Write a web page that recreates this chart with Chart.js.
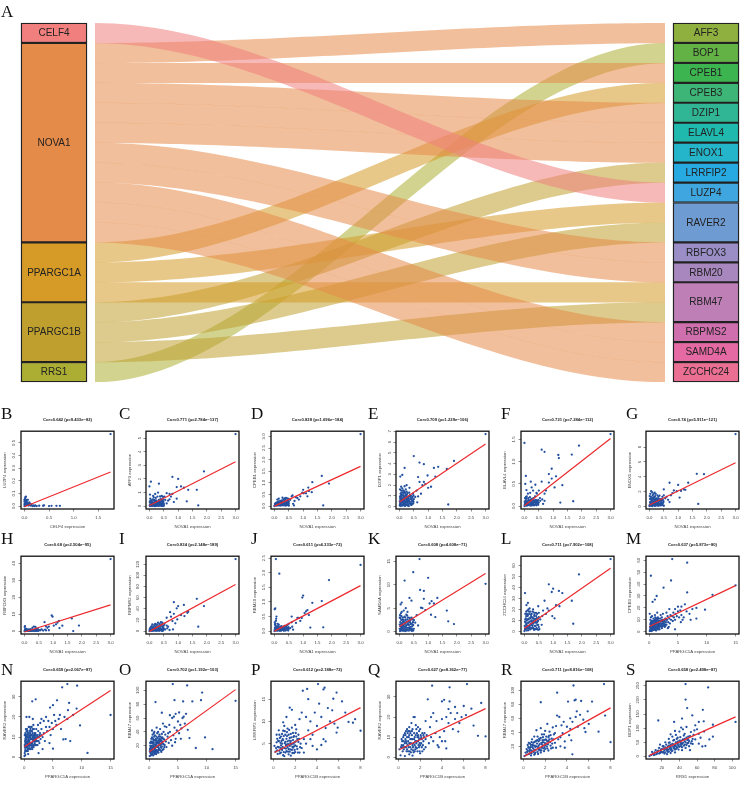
<!DOCTYPE html>
<html>
<head>
<meta charset="utf-8">
<script src="https://cdn.jsdelivr.net/npm/chart.js@4"></script>
<style>
  html, body { margin: 0; padding: 0; background: #fff; }
  #page { position: relative; width: 750px; height: 785px; overflow: hidden; }
  canvas { position: absolute; }
  .tag { position: absolute; font: 17px/17px "Liberation Serif", serif; color: #111; }
</style>
</head>
<body>
<div id="page"></div>
<script>
// sankey nodes, one size unit = one row
const leftNodes = ['CELF4', 'NOVA1', 'PPARGC1A', 'PPARGC1B', 'RRS1'];
const leftSizes = [1, 10, 3, 3, 1];
const leftColors = ['#F07F7D', '#E58B49', '#D69A26', '#BFA02F', '#ABAE32'];
const rightNodes = ['AFF3', 'BOP1', 'CPEB1', 'CPEB3', 'DZIP1', 'ELAVL4', 'ENOX1', 'LRRFIP2', 'LUZP4', 'RAVER2', 'RBFOX3', 'RBM20', 'RBM47', 'RBPMS2', 'SAMD4A', 'ZCCHC24'];
const rightSizes = [1, 1, 1, 1, 1, 1, 1, 1, 1, 2, 1, 1, 2, 1, 1, 1];
const rightColors = ['#8FAF3E', '#62B245', '#3CB44F', '#3DB577', '#30B694', '#1FB9AE', '#25B5CB', '#27A9E1', '#3FA6DF', '#6D9BD2', '#9B8EC7', '#A886BE', '#BD7FB5', '#CF6FAE', '#E56AA3', '#EA6F92'];
const linkFrom = ['CELF4', 'NOVA1', 'NOVA1', 'NOVA1', 'NOVA1', 'NOVA1', 'NOVA1', 'NOVA1', 'NOVA1', 'NOVA1', 'NOVA1', 'PPARGC1A', 'PPARGC1A', 'PPARGC1A', 'PPARGC1B', 'PPARGC1B', 'PPARGC1B', 'RRS1'];
const linkTo = ['LUZP4', 'AFF3', 'CPEB1', 'DZIP1', 'ELAVL4', 'ENOX1', 'RBFOX3', 'RBM20', 'RBPMS2', 'SAMD4A', 'ZCCHC24', 'CPEB3', 'RAVER2', 'RBM47', 'LRRFIP2', 'RAVER2', 'RBM47', 'BOP1'];

// scatter titles
const letters = ['B', 'C', 'D', 'E', 'F', 'G', 'H', 'I', 'J', 'K', 'L', 'M', 'N', 'O', 'P', 'Q', 'R', 'S'];
const titles = ['Cor=0.642 (p=9.433e\u221282)', 'Cor=0.771 (p=2.784e\u2212137)', 'Cor=0.828 (p=1.696e\u2212184)', 'Cor=0.709 (p=1.229e\u2212106)', 'Cor=0.721 (p=7.284e\u2212112)', 'Cor=0.74 (p=5.911e\u2212121)',
  'Cor=0.68 (p=2.504e\u221295)', 'Cor=0.834 (p=2.148e\u2212189)', 'Cor=0.611 (p=4.333e\u221272)', 'Cor=0.608 (p=4.608e\u221271)', 'Cor=0.711 (p=7.902e\u2212108)', 'Cor=0.637 (p=5.873e\u221280)',
  'Cor=0.659 (p=2.067e\u221287)', 'Cor=0.702 (p=1.192e\u2212103)', 'Cor=0.612 (p=2.188e\u221272)', 'Cor=0.627 (p=8.362e\u221277)', 'Cor=0.711 (p=8.816e\u2212108)', 'Cor=0.658 (p=2.498e\u221287)'];
const xGenes = ['CELF4', 'NOVA1', 'NOVA1', 'NOVA1', 'NOVA1', 'NOVA1', 'NOVA1', 'NOVA1', 'NOVA1', 'NOVA1', 'NOVA1', 'PPARGC1A', 'PPARGC1A', 'PPARGC1A', 'PPARGC1B', 'PPARGC1B', 'PPARGC1B', 'RRS1'];
const yGenes = ['LUZP4', 'AFF3', 'CPEB1', 'DZIP1', 'ELAVL4', 'ENOX1', 'RBFOX3', 'RBPMS2', 'RBM20', 'SAMD4A', 'ZCCHC24', 'CPEB3', 'RAVER2', 'RBM47', 'LRRFIP2', 'RAVER2', 'RBM47', 'BOP1'];

const ticksNova = [0, 0.5, 1, 1.5, 2, 2.5, 3];
const ticks1A = [0, 5, 10, 15];
const ticks1B = [0, 2, 4, 6, 8];
const xTicks = [[0, 0.5, 1, 1.5], ticksNova, ticksNova, ticksNova, ticksNova, ticksNova, ticksNova, ticksNova, ticksNova, ticksNova, ticksNova, ticks1A, ticks1A, ticks1A, ticks1B, ticks1B, ticks1B, [20, 40, 60, 80, 100]];
const yTicks = [[0, 0.1, 0.2, 0.3, 0.4, 0.5], [0, 1, 2, 3, 4, 5], [0, 0.5, 1, 1.5, 2, 2.5, 3], [0, 1, 2, 3, 4, 5, 6, 7], [0, 0.5, 1, 1.5], [0, 2, 4, 6, 8],
  [0, 10, 20, 30, 40], [0, 20, 40, 60, 80, 100, 120], [0, 0.5, 1, 1.5, 2, 2.5], [0, 5, 10, 15], [0, 10, 20, 30, 40, 50, 60], [0, 10, 20, 30, 40, 50, 60],
  [0, 10, 20, 30], [20, 40, 60, 80, 100], [5, 10, 15], [0, 10, 20, 30], [20, 40, 60, 80, 100], [0, 50, 100, 150, 200, 250]];

// red fit lines, [x, y] at both ends
const fits = [
  [[0, -0.005], [1.75, 0.27]], [[0, 0.05], [3, 3.27]], [[0, 0], [3, 1.71]], [[0, 0.43], [3, 5.83]], [[0, 0.01], [3, 1.52]], [[0, 0.2], [3, 5.9]],
  [[0, -0.5], [3, 15.5]], [[0, -0.5], [3, 83.8]], [[0, 0], [3, 1.56]], [[0, 1.1], [3, 12.4]], [[0, 3], [3, 57.6]], [[0.05, 4.4], [15, 38.7]],
  [[0.05, 5.2], [15, 33.2]], [[0.05, 11.4], [15, 101]], [[0.1, 3], [8, 13.1]], [[0.1, 3.9], [8, 24.2]], [[0.1, 6], [8, 75]], [[6, 3.5], [103.7, 140]]
];

// points
const ptsB = [[0,0],[.01,.02],[.02,.05],[.03,.075],[.01,.06],[.02,.03],[.04,.04],[.05,.02],[.03,.01],[.06,.03],[.07,.01],[.08,.02],[.05,.05],[.02,.07],[.01,.04],[.03,.03],[.04,.02],[.09,.01],[.1,.01],[.12,.005],[.14,.01],[.16,0],[.18,.005],[.2,0],[.22,.005],[.25,0],[.3,.003],[.38,.003],[.4,.006],[.5,0],[.55,.002],[.65,.002],[.72,.002],[.06,.01],[0,.015],[0,.035],[.07,.05],[.1,.03],[.015,.01],[.035,.05],[.045,.01],[.08,.005],[.11,.02],[0,.05],[.02,.015],[.13,.015],[1.75,.57]];
const ptsC = [[.02,0],[.05,.05],[.08,.02],[.1,.1],[.12,.04],[.15,.08],[.18,.01],[.2,.12],[.23,.05],[.25,.02],[.28,.15],[.3,.06],[.32,.02],[.35,.1],[.38,.04],[.4,.12],[.42,.02],[.45,.08],[.48,.05],[.5,.02],[.03,.15],[.06,.25],[.01,.3],[.1,.3],[.14,.2],[.17,.35],[.2,.25],[.24,.4],[.27,.3],[.3,.22],[.33,.45],[.36,.3],[.39,.55],[.41,.35],[.44,.2],[.47,.45],[.49,.3],[.5,.15],[.08,.4],[.12,.5],[.03,.55],[.02,.85],[.15,.65],[.22,.6],[.28,.7],[.37,.72],[.43,.75],[.47,.68],[.05,1.8],[0,1.45],[.33,1.65],[.8,2.15],[1,2],[.95,1.4],[1.1,1.45],[1.2,1.35],[1.35,1.2],[1.65,1.2],[1.7,.05],[1.9,2.55],[1.3,.35],[3,5.3],[.8,.9],[.6,.95],[.7,.9],[.52,.7],[.75,.7],[.95,.55],[.85,.3],[.65,.4],[.55,.45],[.6,.2],[.7,.5],[.13,.75],[.2,.9],[.3,1],
  [.04,.12],[.07,.3],[.09,.18],[.13,.1],[.16,.22],[.19,.15],[.22,.32],[.25,.12],[.26,.22],[.29,.05],[.31,.15],[.34,.25],[.37,.16],[.4,.24],[.43,.12],[.46,.3],[.48,.18],[.03,.38],[.06,.42],[.11,.2],[.16,.45],[.21,.42],[.31,.36],[.35,.4],[.42,.45],[.45,.38],[.01,.06],[.04,.02],[.07,.08],[.1,.02],[.14,.03],[.19,.06],[.22,.01],[.27,.08],[.33,.03],[.37,.07],[.41,.06],[.44,.01],[.49,.11]];
const ptsD = [[0,0],[.03,.05],[.06,.02],[.09,.08],[.12,.03],[.15,.1],[.18,.05],[.21,.02],[.24,.12],[.27,.06],[.3,.03],[.33,.14],[.36,.07],[.39,.02],[.42,.1],[.45,.05],[.48,.13],[.5,.02],[.02,.1],[.05,.14],[.08,.15],[.11,.17],[.14,.2],[.17,.16],[.2,.22],[.23,.19],[.26,.25],[.29,.2],[.32,.28],[.35,.22],[.38,.3],[.41,.24],[.44,.18],[.47,.26],[.5,.2],[.1,.28],[.15,.32],[.28,.36],[.35,.33],[.4,.35],[.46,.33],[.5,.3],[.55,.27],[.6,.42],[.63,.46],[.65,.1],[.68,.03],[.7,.22],[.75,.38],[.8,.35],[.85,.28],[.9,.42],[.97,.58],[1,.7],[1.02,.55],[1.1,.55],[1.15,.42],[1.18,.8],[1.2,.65],[1.3,.6],[1.32,1.03],[1.65,1.3],[1.7,.03],[1.9,.97],[3,3.1],
  [.01,.03],[.04,.08],[.07,.04],[.1,.04],[.13,.09],[.16,.03],[.19,.09],[.22,.06],[.25,.04],[.28,.09],[.31,.12],[.34,.04],[.37,.11],[.4,.05],[.43,.04],[.46,.09],[.49,.06],[.06,.12],[.12,.13],[.18,.13],[.24,.16],[.3,.16],[.36,.15],[.42,.15],[.47,.17],[.5,.12]];
const ptsE = [[.01,.1],[.03,.3],[.05,.6],[.02,.9],[.04,1.2],[.06,1.5],[.08,.2],[.1,.45],[.12,.8],[.14,1],[.16,.15],[.18,.6],[.2,1.3],[.22,.35],[.24,.7],[.26,1.1],[.28,.1],[.3,.5],[.32,.9],[.34,1.3],[.36,.3],[.38,.7],[.4,1],[.42,.15],[.44,.5],[.46,.9],[.48,.3],[.5,.7],[.02,1.6],[.06,1.85],[.1,1.7],[.14,1.5],[.18,1.9],[.22,1.6],[.05,.05],[.11,.1],[.15,.3],[.25,.2],[.33,.05],[.41,.45],[.49,1.05],[.08,1.1],[.12,1.3],[.02,.45],[.04,.75],[.07,.95],[.09,.65],[.13,.4],[.17,.85],[.19,.25],[.23,1],[.27,.55],[.31,.75],[.35,1],[.39,.2],[.43,.75],[.47,.55],[.03,2.8],[.1,2.95],[.18,3.6],[.25,2],[.35,1.75],[.5,4.7],[.7,4.1],[.85,3.95],[.65,2.75],[.7,2.3],[.85,2.3],[.8,2],[.98,2.9],[1.1,1.85],[1.2,3.6],[1.25,2.8],[1.35,3.7],[1.65,3.5],[1.7,.2],[1.9,4.25],[3,6.75],[.55,.9],[.6,1.5],[.65,.95],[.75,1.2],[.62,.4],[.9,2.1],[1,1.75],
  [.01,.5],[.02,.2],[.03,.7],[.04,1],[.05,.35],[.06,.8],[.07,1.3],[.08,.55],[.09,1.05],[.1,.2],[.11,.7],[.12,1.5],[.13,.15],[.14,.6],[.15,1.2],[.16,.45],[.17,1.4],[.18,.95],[.19,.05],[.2,.5],[.21,.8],[.22,1.15],[.23,.15],[.24,.45],[.25,1.4],[.26,.65],[.27,.9],[.28,1.25],[.29,.35],[.3,.75],[.31,.2],[.33,.6],[.35,.45],[.37,1.1],[.39,.85],[.4,.3],[.42,.65],[.45,.25],[.47,1.2],[.49,.45]];
const ptsF = [[0,0],[.03,.03],[.06,.01],[.09,.06],[.12,.02],[.15,.08],[.18,.04],[.21,.01],[.24,.07],[.27,.03],[.3,.02],[.33,.08],[.36,.03],[.39,.06],[.42,.02],[.45,.07],[.48,.03],[.01,.1],[.04,.13],[.07,.16],[.1,.11],[.13,.18],[.16,.12],[.19,.2],[.22,.14],[.02,.18],[.05,.2],[.08,.22],[.25,.16],[.28,.11],[.31,.18],[.34,.13],[.37,.22],[.4,.14],[.43,.28],[.46,.11],[.5,.08],[.54,.18],[.2,.3],[.3,.35],[.42,.3],[.5,.35],[.12,.28],[.25,.42],[.22,.55],[.03,.5],[.05,.68],[.07,.36],[.38,.48],[.6,1.27],[.7,1.22],[0,1.42],[.6,.55],[.7,.28],[.75,.35],[.85,.72],[.85,.53],[.95,.84],[.95,.62],[1.1,.67],[1.05,.42],[1.18,1.15],[1.2,1.08],[1.25,.08],[1.32,.47],[1.65,1.16],[1.7,.11],[1.9,1.36],[3,1.62],[.62,.15],[.65,.05],[.55,.12],[.7,.12],
  [.01,.04],[.04,.06],[.07,.03],[.1,.02],[.13,.05],[.16,.03],[.19,.09],[.22,.05],[.25,.02],[.28,.07],[.31,.05],[.34,.02],[.37,.09],[.4,.04],[.43,.09],[.47,.05],[.02,.08],[.06,.09],[.11,.08],[.15,.14],[.2,.11],[.24,.12],[.29,.14],[.33,.12],[.38,.1],[.42,.12],[.48,.14]];
const ptsG = [[0,.05],[.03,.3],[.06,.6],[.09,.15],[.12,.9],[.15,.4],[.18,.1],[.21,.7],[.24,.25],[.27,.5],[.3,.1],[.33,.35],[.36,.65],[.39,.15],[.42,.45],[.45,.2],[.48,.55],[.5,.1],[.02,1],[.05,1.3],[.08,.85],[.11,1.5],[.14,1.2],[.17,.95],[.2,1.4],[.23,.85],[.26,1.1],[.29,.75],[.32,1.05],[.35,.9],[.38,1],[.41,.8],[.44,1],[.47,.85],[.03,1.7],[.06,2.05],[.01,1.4],[.1,1.9],[.14,1.65],[.18,1.85],[.22,1.7],[.28,1.5],[.35,1.45],[.45,1.3],[.5,1.5],[.02,.6],[.07,.2],[.13,.55],[.19,.35],[.25,.8],[.55,1.1],[.6,1.3],[.65,.9],[.7,.6],[.75,1.5],[.5,2.3],[.7,3.2],[.85,2.15],[.95,2.05],[1,2.9],[1.05,1.2],[1.1,2.1],[1.2,2.3],[1.25,2.25],[1.35,3.2],[1.65,4.4],[1.7,.35],[1.9,4.35],[3,9.75],[.8,1.8],
  [.01,.2],[.04,.5],[.05,.1],[.07,.75],[.08,.4],[.1,.05],[.11,.55],[.13,.25],[.16,.7],[.16,.15],[.19,.6],[.22,.1],[.22,.45],[.25,.4],[.28,.2],[.3,.55],[.31,.3],[.34,.15],[.37,.35],[.4,.6],[.43,.2],[.46,.4],[.49,.7],[.04,1.1],[.07,1],[.1,1.2],[.13,1],[.16,1.25],[.19,.85],[.21,1.1],[.27,.95],[.31,1.3],[.37,.75]];
const ptsH = [[0,0],[.03,.2],[.06,.5],[.09,.1],[.12,.4],[.15,.2],[.18,.6],[.21,.1],[.24,.3],[.27,.8],[.3,.15],[.33,.5],[.36,.2],[.39,1],[.42,.3],[.45,.6],[.48,.2],[.5,.4],[.02,1],[.04,1.5],[.01,2.5],[.02,3],[.08,1.2],[.12,.8],[.16,1],[.22,1.1],[.28,2],[.33,2.7],[.38,2.5],[.42,1.5],[.47,1.1],[.55,.5],[.6,1],[.65,.3],[.7,5.3],[.72,.9],[.75,2.8],[.8,2],[.85,2.7],[.85,.5],[.95,9.2],[.98,8.5],[1.02,3.2],[1.1,4],[1.15,5],[1.2,6],[1.22,1.8],[1.32,3.2],[1.65,7.5],[1.7,0],[1.9,3.3],[3,42.5],[.75,.4],[.1,.2],[.2,.4],[.35,.7],
  [.05,.1],[.14,.1],[.19,.2],[.26,.1],[.31,.4],[.37,.1],[.41,.6],[.44,.1],[.49,.7],[.07,.8],[.17,.5],[.25,.6]];
const ptsI = [[0,0],[.03,1],[.06,3],[.09,.5],[.12,2],[.15,5],[.18,1],[.21,4],[.24,.5],[.27,3],[.3,1],[.33,6],[.36,2],[.39,4],[.42,.5],[.45,3],[.48,1.5],[.5,5],[.02,5],[.05,7],[.08,9],[.11,6],[.14,8],[.17,11],[.2,7],[.23,9],[.26,12],[.29,8],[.32,10],[.35,13],[.38,8],[.41,12],[.44,9],[.47,7],[.5,10],[.1,12],[.2,13],[.3,15],[.4,16],[.45,15],[.52,13],[.55,3],[.6,24],[.62,5],[.65,8],[.7,2],[.72,34],[.75,26],[.8,18],[.82,3],[.85,52],[.85,31],[.9,14],[.95,41],[.97,21],[1,45],[1.1,29],[1.2,47],[1.22,27],[1.32,33],[1.35,35],[1.65,58],[1.7,8],[1.9,45],[3,129.5],[.6,10],
  [.01,3],[.04,4],[.07,1],[.1,3],[.13,.5],[.16,2],[.19,3.5],[.22,1],[.25,5],[.28,1.5],[.31,3.5],[.34,.5],[.37,5],[.4,2],[.43,4.5],[.46,.5],[.49,3]];
const ptsJ = [[0,0],[.03,.02],[.06,.05],[.09,.01],[.12,.08],[.15,.03],[.18,.01],[.21,.06],[.24,.02],[.27,.1],[.3,.04],[.33,.01],[.36,.07],[.39,.02],[.42,.12],[.45,.05],[.48,.02],[.5,.08],[.02,.12],[.04,.18],[.07,.15],[.1,.13],[.13,.18],[.16,.12],[.2,.15],[.25,.17],[.3,.13],[.35,.18],[.4,.15],[.45,.2],[.5,.25],[.03,.25],[.01,.3],[.05,.35],[.06,.42],[.07,.5],[.02,.22],[.11,.25],[.15,.22],[.03,.78],[.01,.75],[.05,2.47],[.17,1.97],[.6,.5],[.62,.15],[.65,.05],[.6,.3],[.75,.28],[.8,.45],[.85,.45],[.9,.35],[.95,.45],[.97,1.15],[1,1.22],[1.05,.62],[1.1,.68],[1.15,.72],[1.2,.55],[1.25,.12],[1.32,.97],[1.65,1.03],[1.7,.13],[1.9,1.75],[3,2.27],[.55,.1],
  [.01,.06],[.04,.09],[.08,.06],[.11,.03],[.14,.09],[.17,.05],[.19,.1],[.22,.02],[.23,.11],[.26,.05],[.29,.09],[.32,.06],[.35,.11],[.38,.04],[.41,.08],[.44,.1],[.47,.06],[.49,.14]];
const ptsK = [[.02,.1],[.05,.5],[.08,1],[.11,.2],[.14,1.4],[.17,.6],[.2,.1],[.23,1.2],[.26,.4],[.29,1.7],[.32,.2],[.35,.9],[.38,1.6],[.41,.3],[.44,1.1],[.47,2],[.5,.6],[.01,1.5],[.03,2],[.06,2.5],[.09,1.8],[.12,3],[.15,2.2],[.18,3.2],[.21,2.5],[.24,3.6],[.27,2.6],[.3,3],[.33,2.4],[.36,2.9],[.39,2.5],[.42,3],[.45,2.7],[.5,2.4],[.02,3.5],[.05,3.9],[.01,3],[.08,4.2],[.04,5.8],[.08,6.2],[.15,4.5],[.22,5],[.28,4.2],[.3,1.5],[.07,.8],[.13,.3],[.19,1.6],[.25,2.1],[.34,.6],[.43,.15],[.48,1.4],[.18,10.9],[.35,7.2],[.42,6.6],[.48,12.7],[.7,15.5],[.72,8.9],[.85,8.7],[.85,7],[.8,5],[.75,5.1],[.9,4.6],[1,11.5],[1.05,6],[1.1,3.6],[1.12,6.5],[1.2,6],[1.25,3.1],[1.32,7.2],[1.65,4.5],[1.7,2.2],[1.9,1.6],[3,10.2],[.55,1.9],[.6,3.5],[.65,1.3],
  [.01,.6],[.03,1.1],[.04,.2],[.06,1.6],[.07,.3],[.09,.6],[.1,1.3],[.12,2.1],[.13,.9],[.15,.2],[.16,1.1],[.17,1.9],[.19,.5],[.21,.9],[.22,1.9],[.24,.2],[.25,.8],[.27,1.5],[.28,.3],[.3,.8],[.31,2.1],[.33,1.4],[.35,.3],[.37,2],[.39,1],[.4,.6],[.42,1.7],[.44,.5],[.46,1.5],[.48,.2],[.49,2.5],[.03,2.9],[.07,3.3],[.1,2.6],[.14,2.5],[.2,3],[.27,3.4]];
const ptsL = [[0,.3],[.03,3],[.06,6],[.09,1],[.12,4],[.15,8],[.18,2],[.21,6],[.24,10],[.27,3],[.3,7],[.33,1.5],[.36,5],[.39,9],[.42,3],[.45,6],[.48,1.5],[.5,4],[.02,9],[.05,12],[.08,10],[.11,14],[.14,11],[.17,16],[.2,12],[.23,15],[.26,13],[.29,18],[.32,12],[.35,15],[.38,11],[.41,14],[.44,12],[.47,10],[.5,13],[.03,16],[.06,18],[.1,19],[.14,20],[.18,21],[.07,24],[.12,26],[.02,35],[.3,20],[.4,17],[.5,17],[.48,23],[.08,3],[.13,1],[.19,4],[.25,6],[.31,10],[.37,2],[.43,8],[.55,11],[.6,6],[.62,14],[.65,19],[.7,28],[.75,16],[.8,21],[.85,43],[.85,19],[.95,36],[1,39],[.97,14],[1.05,12],[1.1,24],[1.2,37],[1.22,23],[1.32,35],[1.65,28],[1.7,7],[1.9,52],[3,66],[.52,2],
  [.01,5],[.02,2],[.04,8],[.05,4],[.07,1],[.08,7],[.1,5],[.11,11],[.13,8],[.14,3],[.16,5],[.17,12],[.19,9],[.21,2],[.22,13],[.23,7],[.25,3],[.26,9],[.28,5],[.29,12],[.31,3],[.33,8],[.34,14],[.36,2],[.37,11],[.39,5],[.4,8],[.42,12],[.44,2],[.46,9],[.48,6],[.03,11],[.06,14],[.09,16],[.12,15],[.16,18],[.21,18],[.25,16],[.34,17],[.44,16]];
const ptsM = [[.3,47],[4,61],[6.6,58],[3.8,43],[2.5,37],[6.6,33],[1.3,30],[.6,25],[1,27],[11,31],[15,39],[9.7,18.5],[8.2,20],[7.5,19],[6.2,23],[5.6,21],[7.2,10],[8.2,11],[4.5,2],[.1,.5],[.2,2],[.3,4],[.4,1],[.5,3],[.6,6],[.7,1.5],[.8,4],[.9,2.5],[1,6],[1.1,3],[1.2,1],[1.3,5],[1.4,8],[1.5,3],[1.6,6],[1.7,4],[1.8,2],[1.9,7],[2,5],[2.1,9],[2.2,3],[2.3,7],[2.4,5],[2.5,10],[2.6,7],[2.7,4],[2.8,11],[2.9,8],[3,6],[3.1,10],[3.2,13],[3.3,8],[3.4,4],[3.5,11],[3.6,7],[3.7,14],[3.8,10],[4,13],[4.1,9],[4.2,16],[4.3,12],[4.5,10],[4.6,15],[4.8,13],[5,17],[5.2,12],[5.4,18],[5.6,14],[5.8,10],[.2,6],[.3,8],[.4,5],[.5,9],[.6,3],[.7,7],[.8,9],[.9,5],[1,10],[1.1,7],[1.2,11],[1.3,8],[1.5,12],[1.7,9],[1.9,11],[2,14],[2.2,12],[2.4,15],[.2,10],[.3,12],[.5,13],[.1,15],[1,14],[1.4,16],[.15,1],[.25,3],[.35,.5],[.45,2],[.55,4],[.65,2.5],[.75,5.5],[.85,3.5],[.95,7],[1.05,4.5],[1.15,6],[1.25,3],[1.35,6.5],[1.45,4.5],[1.55,8],[1.65,2],[1.75,6],[2.15,6],[2.35,9],[3.25,3],[5.5,8],[6,12],[6.5,17],[7,15],[3,16],[3.5,19],[4.5,19],[5,21],
  [.25,1],[.35,2.5],[.45,4],[.55,1],[.65,5],[.75,3],[.85,1.5],[.95,4],[1.05,2],[1.15,8],[1.25,6],[1.35,3],[1.45,2],[1.55,5],[1.65,7],[1.75,3.5],[1.85,5],[1.95,9],[2.05,7],[2.15,4],[2.25,10],[2.35,5],[2.45,8],[2.55,5.5],[2.65,9],[2.75,6],[2.85,5],[2.95,10],[.15,4],[.25,7],[.35,6.5],[.45,7],[.55,8],[.65,9],[.75,11],[.85,7],[.95,9],[1.05,12],[1.15,10],[1.25,9],[1.35,11],[1.45,10],[1.65,11]];
const ptsN = [[6.6,34.8],[7.5,36.4],[9.2,35.6],[1.4,27.8],[2,28.8],[5.7,28.3],[15,21],[11,2.1],[9.7,15.8],[7.8,27],[7.6,23.4],[9.1,24.2],[4.5,24.7],[5,25.9],[6.8,8.8],[7.2,9],[8,8],[5,4.2],[2.5,2],[.05,.5],[.1,2],[.2,4],[.3,6],[.15,8],[.25,3],[.35,10],[.45,5],[.55,7],[.65,3],[.75,9],[.85,5],[.95,11],[1.05,7],[1.15,4],[1.25,9],[1.35,6],[1.45,12],[1.55,8],[1.65,5],[1.75,10],[1.85,7],[1.95,12],[2.05,9],[2.15,6],[2.25,11],[2.35,8],[2.45,13],[2.55,10],[2.65,7],[2.75,12],[2.85,9],[2.95,11],[.1,6],[.2,9],[.3,11],[.4,13],[.5,3],[.6,10],[.7,6],[.8,12],[.9,8],[1,4],[1.1,10],[1.2,13],[1.3,7],[1.4,9],[1.5,5],[1.6,11],[1.7,14],[1.8,8],[1.9,10],[2,6],[2.1,14],[2.2,8],[.15,11],[.25,7],[.35,5],[.45,9],[.55,12],[.65,8],[.75,4],[.85,10],[.95,6],[1.05,12],[1.15,9],[1.25,5],[1.35,11],[1.45,7],[.5,14],[.8,15],[.3,14],[.1,11],[1,15],[1.3,15],[1.6,16],[.4,20],[.9,20],[1.5,19],[2.4,16],[3,14],[3.2,10],[3.4,12],[3.6,8],[3.8,15],[4,13],[4.2,18],[4.4,15],[4.6,11],[4.8,17],[5,14],[5.2,21],[5.4,18],[5.6,16],[6,19],[6.4,14],[2.8,17],[3,19],[3.4,18],[3.8,20],[6.2,21],[7,20],[7.5,19],[8.5,21],[4.4,7],[3.2,4],[.2,1],[.7,1.5],
  [.12,5],[.22,7],[.32,3],[.42,7],[.52,5],[.62,6],[.72,8],[.82,7],[.92,10],[1.02,9],[1.12,6],[1.22,11],[1.32,9],[1.42,4],[1.52,10],[1.62,8],[1.72,6],[1.82,11],[1.92,8],[2.02,11],[2.12,8],[2.22,10],[2.32,6],[2.42,10],[2.52,8],[2.62,11],[.17,3],[.27,10],[.37,8],[.47,11],[.57,4],[.67,11],[.77,6],[.87,8],[.97,13],[1.07,4],[1.17,11],[1.27,7],[1.37,13],[1.47,10],[1.57,6],[1.67,9],[1.77,12],[1.87,9],[1.97,6],[.2,12],[.4,10],[.6,13],[1.1,14],[1.5,14]];
const ptsO = [[4.1,109],[6.6,107],[9.2,96.7],[1.1,83],[4.4,85.7],[5.9,84],[7.5,84],[9,85.7],[15,84.8],[11,15],[9.7,32],[8.1,16.7],[6.7,43],[7,31],[2.2,67.6],[3.6,64],[.1,5],[.2,10],[.3,15],[.4,7],[.5,20],[.6,12],[.7,6],[.8,25],[.9,16],[1,9],[1.1,22],[1.2,14],[1.3,28],[1.4,18],[1.5,11],[1.6,24],[1.7,16],[1.8,30],[1.9,21],[2,13],[2.1,27],[2.2,19],[2.3,32],[2.4,23],[2.5,15],[2.6,29],[2.7,21],[2.8,36],[2.9,26],[3,18],[3.2,33],[3.4,24],[3.6,40],[3.8,28],[4,20],[4.2,35],[4.4,46],[4.6,30],[4.8,42],[5,55],[5.2,38],[5.4,50],[5.6,45],[5.8,60],[6,62],[6.2,52],[6.4,66],[.2,20],[.3,26],[.4,18],[.5,32],[.6,24],[.7,16],[.8,12],[.9,28],[1,35],[1.1,11],[1.2,25],[1.3,19],[1.4,38],[1.5,26],[1.6,14],[1.7,33],[1.8,23],[1.9,44],[2,29],[2.1,17],[2.2,37],[.15,15],[.25,6],[.35,24],[.45,12],[.55,8],[.65,30],[.75,20],[.85,10],[.95,22],[1.05,17],[1.15,30],[1.25,9],[1.35,13],[1.55,40],[1.75,24],[.5,42],[.8,38],[1.3,46],[2.5,40],[3,47],[3.5,50],[4,60],[4.3,62],[4.6,66],[5.2,68],[2.7,48],[3.3,38],[4.5,25],[5.5,30],[2.4,52],
  [.12,12],[.22,16],[.32,9],[.42,13],[.52,9],[.62,17],[.72,11],[.82,19],[.92,8],[1.02,14],[1.12,18],[1.22,8],[1.32,12],[1.42,25],[1.52,19],[1.62,10],[1.72,21],[1.82,14],[1.92,28],[2.02,18],[2.12,11],[2.22,24],[2.32,14],[2.42,30],[2.52,22],[2.62,18],[.17,24],[.27,18],[.37,30],[.47,26],[.57,16],[.67,23],[.77,28],[.87,33],[.97,13],[1.07,28],[1.17,21],[1.27,33],[1.37,23],[1.47,31],[1.57,18],[1.67,28],[1.77,36],[1.87,26],[1.97,33],[2.07,22],[2.17,31],[2.27,26],[.6,36],[.9,40]];
const ptsP = [[2.7,16.9],[3.1,17.3],[4.1,18.4],[4.7,17.6],[4.6,17.2],[5.8,16.5],[5.5,15.1],[6.3,14.5],[3.2,15],[1.5,13.1],[1.7,12.6],[8,7.9],[7.5,10.5],[7.3,9.7],[6.9,9.9],[6.6,12],[5.9,8.6],[4,3.7],[.1,4.5],[.2,3.2],[.3,5.3],[.4,2.7],[.5,4.2],[.6,6.3],[.7,3],[.8,5],[.9,2.4],[1,4],[1.1,7],[1.2,3.3],[1.3,5.5],[1.4,2.6],[1.5,4.5],[1.6,7.2],[1.7,3.6],[1.8,5.8],[1.9,2.9],[2,4.6],[2.1,6.6],[2.2,3.8],[2.3,5.4],[2.4,3],[.3,7],[.5,8],[.7,6.6],[.9,7.9],[1.1,5.4],[1.3,8.4],[1.5,6.3],[1.7,8.6],[1.9,6.7],[2.1,8.2],[2.3,7],[2.5,5],[.4,4.3],[.6,2.8],[.8,3.6],[1,2.2],[1.2,4.8],[1.4,3.8],[1.6,2.3],[1.8,4.1],[2,3.1],[.7,4.6],[.9,5.8],[1.1,3],[1.3,4.2],[1.5,3.2],[1.7,5],[1.9,4.4],[.5,5.6],[.8,7.2],[1,9],[1.2,6.1],[1.4,7],[1.6,5.6],[1.8,7.4],[2,9.2],[2.2,6],[2.6,4],[2.8,6],[3,5],[3.2,8],[3.4,10],[3.6,7],[3.8,12],[4,9],[4.2,14],[4.4,11],[4.6,6],[4.8,8.5],[5,13],[5.2,10],[5.4,12.5],[5.6,9.5],[5.8,7.5],[2.8,3],[3,11],[3.4,6],[2.4,10.5],[2.6,12],[1.2,11],[.9,9.8],[3.6,4.5],[4.4,4.7],[4.8,5.5],
  [.25,4],[.35,3.5],[.45,5.6],[.55,3.4],[.65,5.2],[.75,3.9],[.85,6],[.95,3.1],[1.05,5.1],[1.15,3.9],[1.25,6.7],[1.35,4.9],[1.45,5.7],[1.55,3.7],[1.65,4.8],[1.75,2.9],[1.85,5],[1.95,3.6],[2.05,5.5],[2.15,4.4],[2.25,3],[2.35,6.1],[2.45,4.2],[.35,6.1],[.55,7],[.75,5.6],[.95,6.7],[1.05,7.8],[1.25,7.6],[1.45,8.1],[1.65,6.4],[1.85,6.5],[2.05,7.4],[.65,4],[.85,4.3],[1.15,4.7],[1.35,3.2],[1.55,5.1],[1.75,4.3],[1.95,5.3]];
const ptsQ = [[3.1,35.6],[4.7,34.8],[6.3,36.4],[2.7,28.8],[4,27.8],[4.2,28.6],[4.7,27.8],[7.6,27],[8,10.4],[7.3,10.7],[6.9,15.8],[6,25.5],[5.2,25],[6.7,24.2],[5.5,12.8],[4.4,4.4],[.1,4],[.2,1],[.3,6],[.4,3],[.5,8],[.6,.6],[.7,5],[.8,10],[.9,3],[1,7],[1.1,12],[1.2,4],[1.3,9],[1.4,2.5],[1.5,6],[1.6,11],[1.7,4.5],[1.8,8],[1.9,13],[2,6],[2.1,10],[2.2,3],[2.3,8],[2.4,12],[2.5,5],[.3,9],[.5,11],[.7,13],[.9,8],[1.1,5],[1.3,14],[1.5,10],[1.7,8],[1.9,5],[2.1,7],[2.3,11],[2.5,9],[.4,5],[.6,7],[.8,4],[1,11],[1.2,9],[1.4,7],[1.6,5],[1.8,11],[2,9],[.5,4],[.7,8],[.9,13],[1.1,9],[1.3,6],[1.5,3],[1.7,12],[1.9,9],[.6,12],[.8,14],[1,15],[1.2,17],[1.4,20],[1.6,16],[1.5,20],[1.8,15],[2,14],[2.2,12],[2.6,11],[2.8,7],[3,10],[3.2,8],[3.4,12],[3.6,6],[3.8,10],[4,8],[4.2,13],[4.4,20],[4.6,17],[4.8,22],[5,14],[5.2,19],[5.4,22],[5.6,17],[5.8,20],[6.2,21],[3,20],[3.2,22],[2.9,15],[3.5,18],[4,19],[4.6,24],[4.3,8],[3.7,5],[2.5,18],[1,1.5],[1.3,.8],[2,2],
  [.25,5],[.35,8],[.45,6],[.55,5],[.65,9],[.75,7],[.85,6],[.95,10],[1.05,3],[1.15,7],[1.25,11],[1.35,5],[1.45,9],[1.55,8],[1.65,7],[1.75,10],[1.85,6],[1.95,7],[2.05,11],[2.15,9],[2.25,6],[2.35,10],[.45,10],[.65,11],[.85,12],[1.05,13],[1.25,13],[1.45,12],[1.65,14],[1.85,10],[.75,3],[.95,5],[1.15,2.5],[1.35,3.5],[1.55,4],[1.75,3],[1.95,3],[2.15,5],[2.35,4]];
const ptsR = [[4.6,107],[7.4,109],[3.1,96.7],[1.6,83],[4.1,84],[4.7,85.7],[4.8,86.7],[5.3,84.8],[6.3,84],[8,26],[7.5,64],[6.9,41],[5.7,40.5],[4.5,8.6],[4.4,28.6],[4.9,70],[5.9,70],[.1,6],[.2,11],[.3,8],[.4,14],[.5,18],[.6,10],[.7,22],[.8,13],[.9,17],[1,26],[1.1,11],[1.2,20],[1.3,29],[1.4,15],[1.5,23],[1.6,32],[1.7,18],[1.8,26],[1.9,13],[2,22],[2.1,34],[2.2,17],[2.3,28],[2.4,41],[2.5,21],[2.6,31],[2.7,18],[2.8,37],[2.9,25],[3,49],[3.2,30],[3.4,20],[3.6,39],[3.8,27],[4,48],[4.2,36],[.3,16],[.5,9],[.7,14],[.9,25],[1.1,19],[1.3,12],[1.5,16],[1.7,37],[1.9,29],[2.1,24],[2.3,14],[2.5,36],[2.7,47],[2.9,39],[3.1,64],[3.3,62],[3.5,50],[3.7,55],[.6,24],[.8,30],[1,34],[1.2,43],[1.4,27],[1.6,46],[1.8,33],[2,42],[2.2,52],[2.4,30],[.4,22],[.6,16],[.8,19],[1,15],[1.2,28],[1.4,21],[1.6,11],[1.8,21],[2,16],[2.2,27],[4.3,60],[4.5,55],[4.8,62],[5,48],[5.2,65],[5.5,58],[5.6,46],[6,52],[4.3,45],[3,18],[3.4,33],[3.8,18],[.7,7],[1,8],
  [.35,12],[.45,19],[.55,13],[.65,19],[.75,10],[.85,22],[.95,12],[1.05,21],[1.15,15],[1.25,24],[1.35,19],[1.45,31],[1.55,14],[1.65,25],[1.75,29],[1.85,17],[1.95,25],[2.05,30],[2.15,20],[2.25,23],[2.35,35],[2.45,26],[2.55,17],[2.65,24],[2.75,30],[.5,25],[.9,21],[1.1,27],[1.3,34],[1.5,29],[1.7,23],[1.9,37],[2.1,29],[2.3,33],[.75,26],[1.05,9],[1.35,9],[1.65,14],[1.95,19]];
const ptsS = [[47,256],[72.6,244],[47,201],[48.8,171],[66.6,165],[16,127],[34,122],[43,134],[54.6,145],[103.7,122],[78,70],[78,112],[67.6,124],[62,122],[66,35],[69.5,37],[6,1],[8,5],[10,10],[12,14],[14,8],[16,20],[18,12],[20,26],[22,16],[24,32],[26,20],[28,38],[30,24],[32,44],[34,28],[36,50],[38,32],[40,56],[42,36],[44,60],[46,42],[48,66],[50,48],[52,72],[54,54],[56,76],[58,60],[9,16],[11,5],[13,22],[15,12],[17,30],[19,18],[21,36],[23,10],[25,42],[27,16],[29,50],[31,20],[33,56],[35,14],[37,62],[39,24],[41,68],[43,22],[45,74],[47,30],[49,58],[51,36],[53,86],[55,44],[57,92],[24,50],[26,8],[28,62],[30,34],[32,70],[34,42],[36,76],[38,52],[40,88],[42,46],[44,96],[46,54],[48,104],[50,70],[25,25],[27,35],[29,28],[31,38],[33,34],[35,40],[37,46],[39,38],[41,50],[43,44],[20,15],[22,28],[30,12],[36,26],[62,80],[60,96],[64,66],[68,88],[58,110],[42,102],[35,90],[30,78],[18,42],[52,22],[62,45],[74,60],
  [12,6],[15,18],[17,10],[19,24],[21,14],[23,22],[24,14],[26,30],[27,24],[28,18],[29,34],[30,42],[31,28],[32,20],[33,42],[34,34],[35,24],[36,36],[37,30],[38,42],[39,48],[40,34],[41,42],[42,56],[43,32],[44,48],[45,38],[46,62],[47,50],[48,40],[49,46],[50,60],[51,54],[53,46],[55,62],[46,80],[38,66],[34,58],[28,48],[22,36]];
const pointSets = [ptsB, ptsC, ptsD, ptsE, ptsF, ptsG, ptsH, ptsI, ptsJ, ptsK, ptsL, ptsM, ptsN, ptsO, ptsP, ptsQ, ptsR, ptsS];

const page = document.getElementById('page');

function addCanvas(left, top, width, height) {
  const c = document.createElement('canvas');
  c.width = width;
  c.height = height;
  c.style.left = left + 'px';
  c.style.top = top + 'px';
  page.appendChild(c);
  return c;
}

function addTag(text, left, top) {
  const d = document.createElement('div');
  d.className = 'tag';
  d.textContent = text;
  d.style.left = left + 'px';
  d.style.top = top + 'px';
  page.appendChild(d);
}

// ---------- sankey ----------
const LEFT_X = 33, RIGHT_X = 685;   // node centres
const BAND_START = 74, BAND_END = 644;
const SEAM = 0.012;   // tiny overlap so touching bands show no pale hairline

function offsets(names, sizes) {
  const out = {};
  let at = 0;
  names.forEach((n, i) => { out[n] = at; at += sizes[i]; });
  return out;
}

const leftNext = offsets(leftNodes, leftSizes);
const rightNext = offsets(rightNodes, rightSizes);
const leftStart = { ...leftNext };
const rightStart = { ...rightNext };

function linkEdge(y0, y1) {
  const pts = [];
  for (let i = 0; i <= 60; i++) {
    const t = i / 60;
    pts.push({ x: BAND_START + (BAND_END - BAND_START) * t, y: y0 + (y1 - y0) * (3 * t * t - 2 * t * t * t) });
  }
  return pts;
}

function toRgba(hex, a) {
  const n = parseInt(hex.slice(1), 16);
  return `rgba(${n >> 16},${(n >> 8) & 255},${n & 255},${a})`;
}

const nodeBars = [];
const nodeFill = [];
const nodeNames = [];
leftNodes.forEach((n, i) => {
  nodeBars.push({ x: LEFT_X, y: [leftStart[n], leftStart[n] + leftSizes[i]] });
  nodeFill.push(leftColors[i]);
  nodeNames.push(n);
});
rightNodes.forEach((n, i) => {
  nodeBars.push({ x: RIGHT_X, y: [rightStart[n], rightStart[n] + rightSizes[i]] });
  nodeFill.push(rightColors[i]);
  nodeNames.push(n);
});

const sankeySets = [{ type: 'bar', data: nodeBars, backgroundColor: nodeFill, borderColor: '#222', borderWidth: 1.4, borderSkipped: false, barThickness: 66, clip: false, order: 0 }];
linkFrom.forEach((src, i) => {
  const dst = linkTo[i];
  const y0 = leftNext[src], y1 = rightNext[dst];
  leftNext[src] += 1;
  rightNext[dst] += 1;
  const color = toRgba(leftColors[leftNodes.indexOf(src)], 0.55);
  sankeySets.push({ type: 'line', data: linkEdge(y0, y1), borderWidth: 0, pointRadius: 0, fill: false, order: 1 });
  sankeySets.push({ type: 'line', data: linkEdge(y0 + 1 + SEAM, y1 + 1 + SEAM), borderWidth: 0, pointRadius: 0, backgroundColor: color, fill: { target: sankeySets.length - 1 }, order: 1 });
});

const nodeLabels = {
  id: 'nodeLabels',
  afterDatasetsDraw(chart) {
    const ctx = chart.ctx;
    const bars = chart.getDatasetMeta(0).data;
    ctx.save();
    ctx.font = '10px "Liberation Sans", Arial, sans-serif';
    ctx.fillStyle = '#222';
    ctx.textAlign = 'center';
    ctx.textBaseline = 'middle';
    bars.forEach((b, i) => ctx.fillText(nodeNames[i], b.x, (b.y + b.base) / 2 + 0.5));
    ctx.restore();
  }
};

new Chart(addCanvas(13, 15, 734, 375), {
  type: 'bar',
  data: { datasets: sankeySets },
  plugins: [nodeLabels],
  options: {
    responsive: false,
    animation: false,
    layout: { padding: { left: 8, right: 8, top: 8, bottom: 8 } },
    plugins: { legend: { display: false }, tooltip: { enabled: false } },
    scales: {
      x: { type: 'linear', min: 0, max: 718, offset: false, display: false },
      y: { type: 'linear', min: 0, max: 18, reverse: true, display: false }
    }
  }
});

// ---------- scatter panels ----------
const sansFont = '"Liberation Sans", Arial, sans-serif';
const panelBox = {
  id: 'panelBox',
  afterDraw(chart) {
    const a = chart.chartArea, ctx = chart.ctx;
    ctx.save();
    ctx.lineWidth = 1.3;
    ctx.strokeStyle = '#111';
    ctx.strokeRect(a.left, a.top, a.right - a.left, a.bottom - a.top);
    ctx.restore();
  }
};

function padded(values) {
  const lo = Math.min(...values), hi = Math.max(...values);
  const pad = (hi - lo) * 0.04;
  return { min: lo - pad, max: hi + pad };
}

function tickText(list) {
  const frac = list.some(t => t % 1 !== 0);
  return v => frac ? v.toFixed(1) : String(v);
}

function axis(list, geneName, limits, isY) {
  return {
    type: 'linear',
    min: limits.min,
    max: limits.max,
    afterBuildTicks: s => { s.ticks = list.map(v => ({ value: v })); },
    afterFit: s => {
      if (isY) s.width = 21; else s.height = 23;
      s.paddingLeft = s.paddingRight = s.paddingTop = s.paddingBottom = 0;
    },
    grid: { display: true, drawOnChartArea: false, tickLength: 2.5, color: '#444', lineWidth: 0.6 },
    border: { display: false },
    ticks: {
      font: { family: sansFont, size: 4.3 },
      color: '#444',
      padding: isY ? 2 : 3.5,
      autoSkip: false,
      minRotation: isY ? 90 : 0,
      maxRotation: isY ? 90 : 0,
      crossAlign: isY ? 'center' : 'near',
      callback: tickText(list)
    },
    title: {
      display: true,
      text: geneName + ' expression',
      color: '#444',
      font: { family: sansFont, size: 4.3, lineHeight: 1 },
      padding: isY ? { top: 2.2, bottom: 0 } : { top: 0, bottom: 2.8 }
    }
  };
}

pointSets.forEach((pts, i) => {
  const col = i % 6, row = Math.floor(i / 6);
  const fit = fits[i];
  const xs = pts.map(p => p[0]).concat(fit.map(p => p[0]));
  const ys = pts.map(p => p[1]);
  new Chart(addCanvas(col * 125, 400 + row * 125, 125, 132), {
    type: 'scatter',
    data: {
      datasets: [
        { data: fit.map(p => ({ x: p[0], y: p[1] })), showLine: true, borderColor: '#EC2A2E', borderWidth: 1.2, pointRadius: 0, order: 0 },
        { data: pts.map(p => ({ x: p[0], y: p[1] })), pointRadius: 1.15, borderWidth: 0, backgroundColor: '#23509F', order: 1 }
      ]
    },
    plugins: [panelBox],
    options: {
      responsive: false,
      animation: false,
      layout: { padding: { right: 11 } },
      plugins: {
        legend: { display: false },
        tooltip: { enabled: false },
        title: {
          display: true,
          fullSize: false,
          text: titles[i],
          color: '#222',
          font: { family: sansFont, size: 4.2, weight: 'bold', lineHeight: 1 },
          padding: { top: 18, bottom: 9 }
        }
      },
      scales: {
        x: axis(xTicks[i], xGenes[i], padded(xs), false),
        y: axis(yTicks[i], yGenes[i], padded(ys), true)
      }
    }
  });
});

// ---------- panel letters ----------
const letterLeft = [1, 119, 251, 368, 501, 626];
const letterTop = [405, 530, 661];
addTag('A', 1, 3);
letters.forEach((l, i) => addTag(l, letterLeft[i % 6], letterTop[Math.floor(i / 6)]));
</script>
</body>
</html>
